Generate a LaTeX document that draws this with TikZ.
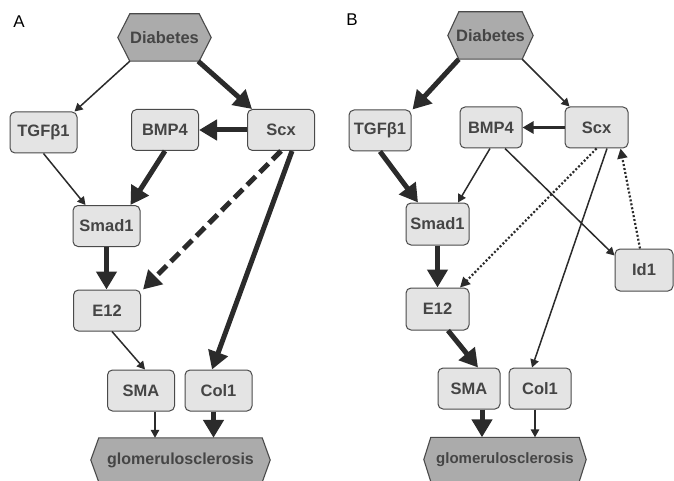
\documentclass[tikz,border=0pt]{standalone}
\usepackage{fontspec}
\setmainfont{Liberation Sans}
\usetikzlibrary{arrows.meta}
\pgfdeclarelayer{bg}\pgfsetlayers{bg,main}
\definecolor{boxfill}{HTML}{E4E4E4}
\definecolor{hexfill}{HTML}{ABABAB}
\definecolor{edgec}{HTML}{4A4A4A}
\definecolor{txtc}{HTML}{454545}
\definecolor{arr}{HTML}{2B2B2B}
\newcommand\hexbg[2]{%
 \begin{pgfonlayer}{bg}
 \draw[draw=edgec, fill=hexfill, line width=1.1pt, line join=miter]
  ([xshift=#2]#1.north west) -- ([xshift=-#2]#1.north east) -- (#1.east) --
  ([xshift=-#2]#1.south east) -- ([xshift=#2]#1.south west) -- (#1.west) -- cycle;
 \end{pgfonlayer}}
\tikzset{
 lbl/.style={text=txtc, font=\bfseries\fontsize{16.5}{19}\selectfont, inner sep=0pt},
 box/.style={lbl, draw=edgec, fill=boxfill, line width=1pt, rounded corners=5pt,
   minimum width=67pt, minimum height=41pt},
 boxb/.style={box, minimum width=62pt},
 hexn/.style={lbl},
 panel/.style={font=\fontsize{17}{20}\selectfont, text=black, inner sep=0pt},
 thin/.style={draw=arr, line width=1.5pt, -{Triangle[length=8pt,width=8.5pt]}},
 med/.style={draw=arr, line width=3pt, -{Triangle[length=11pt,width=12pt]}},
 thick/.style={draw=arr, line width=5pt, -{Triangle[length=18pt,width=20pt]}},
 thickdash/.style={thick, dash pattern=on 12pt off 6pt},
 dots/.style={draw=arr, line width=2.2pt, dash pattern=on 2pt off 2pt,
   -{Triangle[length=10pt,width=10pt]}},
}
\begin{document}
\begin{tikzpicture}[x=1pt,y=-1pt]
\useasboundingbox (0,0) rectangle (674,481);
% ---------------- Panel A ----------------
\node[panel] (labA) at (19,22) {A};
\node[hexn, minimum width=93pt, minimum height=47pt] (diabA) at (164.5,37.5) {Diabetes};
\hexbg{diabA}{12pt}
\node[box] (tgfA) at (43.5,132.5) {TGFβ1};
\node[box] (bmpA) at (165,130) {BMP4};
\node[box] (scxA) at (281,130) {Scx};
\node[box] (smadA) at (106.5,226) {Smad1};
\node[box] (e12A) at (107,310.5) {E12};
\node[box] (smaA) at (141,390.5) {SMA};
\node[box] (colA) at (218.5,390.5) {Col1};
\node[hexn, font=\bfseries\fontsize{16}{19}\selectfont, minimum width=179pt, minimum height=44pt] (glomA) at (180.5,460) {glomerulosclerosis};
\hexbg{glomA}{8pt}

\draw[thin] ([xshift=12pt]diabA.south west) -- ([xshift=-3pt]tgfA.north east);
\draw[thick] ([xshift=-13pt]diabA.south east) -- ([xshift=5pt]scxA.north west);
\draw[thick] (scxA.west) -- (bmpA.east);
\draw[thick] (bmpA.south) -- ([xshift=-10pt]smadA.north east);
\draw[thin] (tgfA.south) -- ([xshift=-21pt]smadA.north);
\draw[thick] (smadA.south) -- (smadA.south |- e12A.north);
\draw[thickdash] (scxA.south) -- ([xshift=2pt]e12A.north east);
\draw[thick] ([xshift=11pt]scxA.south) -- ([xshift=-6.5pt]colA.north);
\draw[thin] ([xshift=5pt]e12A.south) -- ([xshift=4pt]smaA.north);
\draw[thin] ([xshift=14pt]smaA.south) -- ([xshift=14pt]smaA.south |- glomA.north);
\draw[thick] ([xshift=-5pt]colA.south) -- ([xshift=-5pt]colA.south |- glomA.north);

% ---------------- Panel B ----------------
\node[panel] (labB) at (352,20) {B};
\node[hexn, minimum width=85pt, minimum height=47pt] (diabB) at (490.5,35.5) {Diabetes};
\hexbg{diabB}{11pt}
\node[boxb] (tgfB) at (380,130.5) {TGFβ1};
\node[boxb] (bmpB) at (491,127.5) {BMP4};
\node[boxb, minimum width=63pt] (scxB) at (596.5,127.5) {Scx};
\node[boxb, minimum width=63pt, minimum height=42pt] (smadB) at (437.5,224) {Smad1};
\node[boxb, minimum width=58pt, minimum height=42pt] (id1B) at (644,270) {Id1};
\node[boxb, minimum width=63pt, minimum height=42pt] (e12B) at (437.5,309) {E12};
\node[boxb] (smaB) at (469,388.5) {SMA};
\node[boxb] (colB) at (540,388.5) {Col1};
\node[hexn, font=\bfseries\fontsize{15}{18}\selectfont, minimum width=162pt, minimum height=44pt] (glomB) at (505,459.5) {glomerulosclerosis};
\hexbg{glomB}{7pt}

\draw[thick] ([xshift=11pt]diabB.south west) -- ([xshift=1pt]tgfB.north east);
\draw[thin] ([xshift=-11pt]diabB.south east) -- ([xshift=5pt]scxB.north west);
\draw[med] (scxB.west) -- (bmpB.east);
\draw[thick] (tgfB.south) -- ([xshift=-19.5pt]smadB.north);
\draw[thin] ([xshift=-1pt]bmpB.south) -- ([xshift=20.5pt]smadB.north);
\draw[thin] ([xshift=14pt]bmpB.south) -- ([yshift=-7pt]id1B.north west);
\draw[dots] (scxB.south) -- ([xshift=-9.5pt]e12B.north east);
\draw[thin] ([xshift=10.5pt]scxB.south) -- ([xshift=-8pt]colB.north);
\draw[dots] ([xshift=-4pt]id1B.north) -- ([xshift=-8pt]scxB.south east);
\draw[thick] (smadB.south) -- (smadB.south |- e12B.north);
\draw[thick] ([xshift=10.5pt]e12B.south) -- ([xshift=9pt]smaB.north);
\draw[thick] ([xshift=13pt]smaB.south) -- ([xshift=13pt]smaB.south |- glomB.north);
\draw[thin] ([xshift=-5pt]colB.south) -- ([xshift=-5pt]colB.south |- glomB.north);
\end{tikzpicture}
\end{document}
